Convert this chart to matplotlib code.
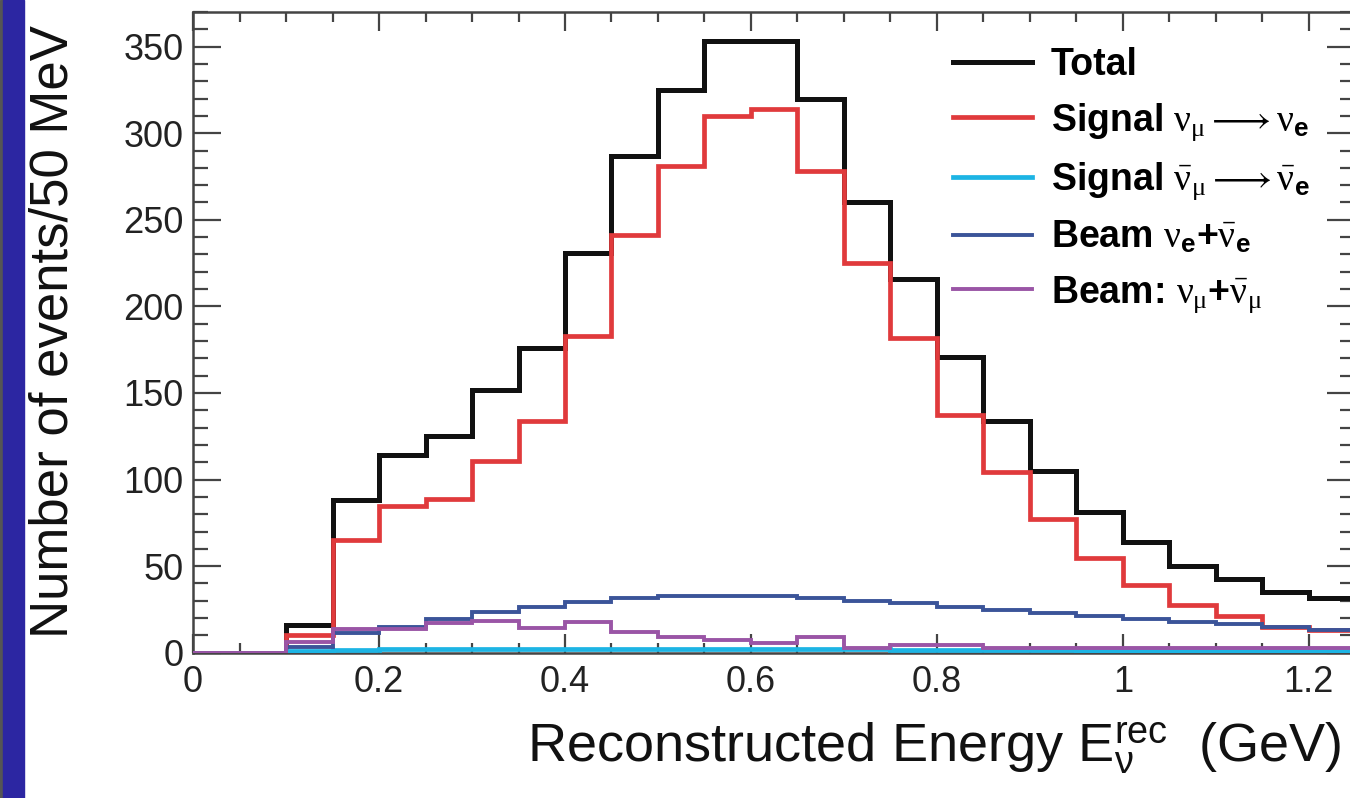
import numpy as np
import matplotlib
matplotlib.use('Agg')
import matplotlib.pyplot as plt
from matplotlib.lines import Line2D
from matplotlib.patches import Rectangle

# bin edges, 50 MeV bins
edges = np.linspace(0.0, 1.25, 26)

total = [0, 0, 16, 88, 114, 125, 152, 176, 231, 287, 325, 353, 353,
         320, 260, 216, 171, 134, 105, 81, 64, 50, 42.5, 35, 31.5]
sig_nue = [0, 0, 10, 65, 85, 89, 111, 134, 183, 241, 281, 310, 314,
           278, 225, 182, 137, 104.5, 77, 55, 39, 27.7, 21.3, 15, 13.3]
sig_nuebar = [0, 0, 1, 1.5, 2, 2, 2, 2, 2, 2, 2, 2, 2,
              2, 2, 1.5, 1.5, 1.5, 1.5, 1, 1, 1, 1, 1, 1]
beam_nue = [0, 0, 3.5, 11.5, 15, 19.6, 23.5, 26.6, 29.5, 31.6, 33, 33, 32.5,
            31.5, 30, 28.8, 26.6, 24.8, 23, 21.4, 19.6, 18, 16.7, 15, 13.3]
beam_numu = [0, 0, 6.5, 14, 14, 17, 18.5, 14.4, 18, 12, 9, 7.5, 5.5,
             9, 3, 4.5, 4.5, 3, 3, 3, 3, 3, 3, 3, 3]

labels = ['Total',
          r'Signal $\nu_{\mu} \longrightarrow \nu_{\mathbf{e}}$',
          r'Signal $\bar{\nu}_{\mu} \longrightarrow \bar{\nu}_{\mathbf{e}}$',
          r'Beam $\nu_{\mathbf{e}}\mathbf{+}\bar{\nu}_{\mathbf{e}}$',
          r'Beam: $\nu_{\mu}\mathbf{+}\bar{\nu}_{\mu}$']
colors = ['#111111', '#e03a3c', '#1cb4e4', '#3b5499', '#9a55a6']
widths = [3.6, 3.4, 3.4, 2.8, 2.8]

plt.rcParams['font.family'] = ['Liberation Sans', 'DejaVu Sans']
plt.rcParams['mathtext.fontset'] = 'custom'
plt.rcParams['mathtext.rm'] = 'Liberation Serif'
plt.rcParams['mathtext.it'] = 'Liberation Serif'
plt.rcParams['mathtext.bf'] = 'Liberation Sans:bold'

fig = plt.figure(figsize=(13.5, 7.98), dpi=100)
ax = fig.add_axes([0.143, 0.182, 0.861, 0.803])

series = [total, sig_nue, sig_nuebar, beam_nue, beam_numu]
for i in range(len(series)):
    ax.stairs(series[i], edges, color=colors[i], lw=widths[i], baseline=0,
              joinstyle='miter', zorder=2 + i)

ax.set_xlim(0, 1.25)
ax.set_ylim(0, 370)
ax.set_xticks([0, 0.2, 0.4, 0.6, 0.8, 1.0, 1.2])
ax.set_xticklabels(['0', '0.2', '0.4', '0.6', '0.8', '1', '1.2'])
ax.set_xticks(np.arange(0, 1.26, 0.05), minor=True)
ax.set_yticks([0, 50, 100, 150, 200, 250, 300, 350])
ax.set_yticks(np.arange(0, 371, 10), minor=True)

ax.tick_params(axis='both', which='both', direction='in', top=True, right=True,
               colors='#444444', labelcolor='#222222', labelsize=26, width=1.6)
ax.tick_params(axis='x', which='major', length=14, pad=9)
ax.tick_params(axis='x', which='minor', length=7)
ax.tick_params(axis='y', which='major', length=20, pad=7)
ax.tick_params(axis='y', which='minor', length=11)
for s in ax.spines.values():
    s.set_color('#444444')
    s.set_linewidth(1.8)

fig.text(0.040, 0.584, 'Number of events/50 MeV', rotation=90,
         ha='center', va='center', fontsize=38, color='#111111')
fig.text(0.993, 0.062, r'Reconstructed Energy E$_{\mathregular{\nu}}^{\mathregular{rec}}$  (GeV)',
         ha='right', va='center', fontsize=39, color='#111111')

handles = [Line2D([], [], color=c, lw=w) for c, w in zip(colors, widths)]
leg = ax.legend(handles, labels, loc='upper left', bbox_to_anchor=(0.654, 0.945),
                frameon=False, borderpad=0, borderaxespad=0, handlelength=2.1,
                handletextpad=0.5, labelspacing=0.47,
                prop={'size': 27, 'weight': 'bold'})

# left slide strip
fig.patches.append(Rectangle((0, 0), 3 / 1350, 1, transform=fig.transFigure,
                             color='#555555', zorder=0))
fig.patches.append(Rectangle((3 / 1350, 0), 21 / 1350, 1, transform=fig.transFigure,
                             color='#2c26a2', zorder=0))

fig.savefig('out.png', dpi=100)
